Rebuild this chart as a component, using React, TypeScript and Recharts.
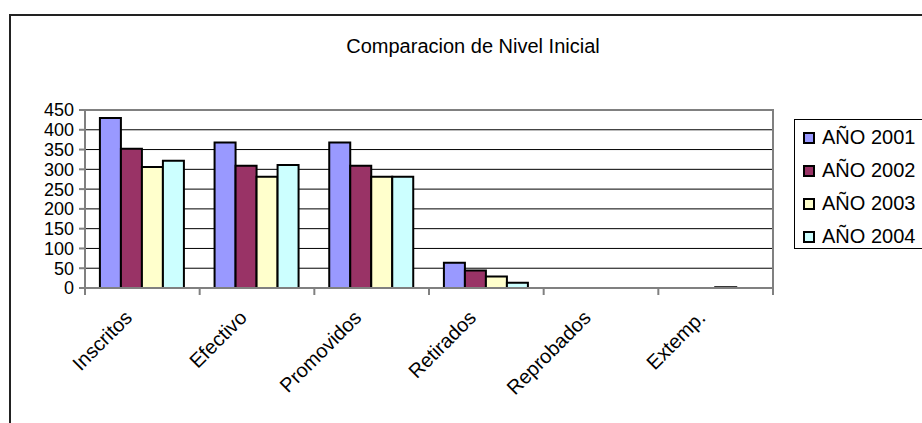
import {
  BarChart,
  Bar,
  XAxis,
  YAxis,
  CartesianGrid,
  Legend,
  ReferenceArea,
} from 'recharts';

const CATEGORIES = ['Inscritos', 'Efectivo', 'Promovidos', 'Retirados', 'Reprobados', 'Extemp.'];
const SERIES = ['AÑO 2001', 'AÑO 2002', 'AÑO 2003', 'AÑO 2004'];
const Y2001 = [430, 368, 368, 64, 0, 0];
const Y2002 = [352, 309, 309, 44, 0, 0];
const Y2003 = [306, 281, 281, 29, 0, 2];
const Y2004 = [322, 311, 281, 13, 0, 0];
const Y_TICKS = [0, 50, 100, 150, 200, 250, 300, 350, 400, 450];

const COLORS = ['#9999ff', '#993366', '#ffffcc', '#ccffff'];
const FONT = '"Liberation Sans", Arial, sans-serif';

const data = CATEGORIES.map((name, i) => ({
  name,
  [SERIES[0]]: Y2001[i],
  [SERIES[1]]: Y2002[i],
  [SERIES[2]]: Y2003[i],
  [SERIES[3]]: Y2004[i],
}));

// category labels rotated 45°, tick marks on the band edges
function CategoryTick({ x, y, payload }: any) {
  const half = payload.offset ?? 0;
  const last = payload.index === CATEGORIES.length - 1;
  const ax = x - 9;
  const ay = y + 31;
  return (
    <g>
      <line x1={x - half} y1={y} x2={x - half} y2={y + 7} stroke="#808080" strokeWidth={2} />
      {last && <line x1={x + half} y1={y} x2={x + half} y2={y + 7} stroke="#808080" strokeWidth={2} />}
      <text
        x={ax}
        y={ay}
        transform={`rotate(-45, ${ax}, ${ay})`}
        textAnchor="end"
        fontSize={20}
        fill="#000"
      >
        {payload.value}
      </text>
    </g>
  );
}

function LegendBox({ payload }: any) {
  return (
    <div
      style={{
        border: '1px solid #000',
        width: 150,
        height: 130,
        boxSizing: 'border-box',
        paddingTop: 1,
        background: '#fff',
      }}
    >
      {(payload || []).map((p: any) => (
        <div
          key={p.value}
          style={{ height: 33, display: 'flex', alignItems: 'center', fontSize: 20, color: '#000' }}
        >
          <span
            style={{
              display: 'inline-block',
              width: 12,
              height: 12,
              boxSizing: 'border-box',
              border: '2px solid #000',
              background: p.color,
              marginLeft: 8,
              marginRight: 7,
            }}
          />
          <span style={{ whiteSpace: 'nowrap' }}>{p.value}</span>
        </div>
      ))}
    </div>
  );
}

export default function App() {
  return (
    <div
      style={{
        position: 'absolute',
        left: 0,
        top: 0,
        width: 922,
        height: 423,
        overflow: 'hidden',
        background: '#fff',
        fontFamily: FONT,
      }}
    >
      <div
        style={{
          position: 'absolute',
          left: 9,
          top: 14,
          width: 1000,
          height: 500,
          border: '2px solid #222',
        }}
      />
      <div
        style={{
          position: 'absolute',
          left: 273,
          top: 35,
          width: 400,
          textAlign: 'center',
          fontSize: 20,
          color: '#000',
          whiteSpace: 'nowrap',
        }}
      >
        Comparacion de Nivel Inicial
      </div>
      <div style={{ position: 'absolute', left: 0, top: 0 }}>
        <BarChart
          width={922}
          height={423}
          data={data}
          margin={{ top: 110, right: 149, bottom: 0, left: 0 }}
          barCategoryGap="13%"
          barGap={0}
        >
          <CartesianGrid vertical={false} stroke="#000" strokeWidth={1} />
          <ReferenceArea y1={0} y2={450} fill="none" stroke="#808080" strokeWidth={2} />
          <XAxis
            dataKey="name"
            height={135}
            interval={0}
            tickLine={false}
            tickSize={0}
            tickMargin={0}
            axisLine={{ stroke: '#808080', strokeWidth: 2 }}
            tick={<CategoryTick />}
          />
          <YAxis
            width={85}
            domain={[0, 450]}
            ticks={Y_TICKS}
            interval={0}
            tickSize={6}
            tickMargin={5}
            tickLine={{ stroke: '#808080', strokeWidth: 2 }}
            axisLine={{ stroke: '#808080', strokeWidth: 2 }}
            tick={{ fontSize: 18, fill: '#000' }}
          />
          <Legend
            layout="horizontal"
            verticalAlign="middle"
            align="center"
            wrapperStyle={{ left: 794, top: 119, width: 150, height: 130 }}
            content={<LegendBox />}
          />
          {SERIES.map((s, i) => (
            <Bar
              key={s}
              dataKey={s}
              fill={COLORS[i]}
              stroke="#000"
              strokeWidth={2}
              isAnimationActive={false}
            />
          ))}
        </BarChart>
      </div>
    </div>
  );
}
